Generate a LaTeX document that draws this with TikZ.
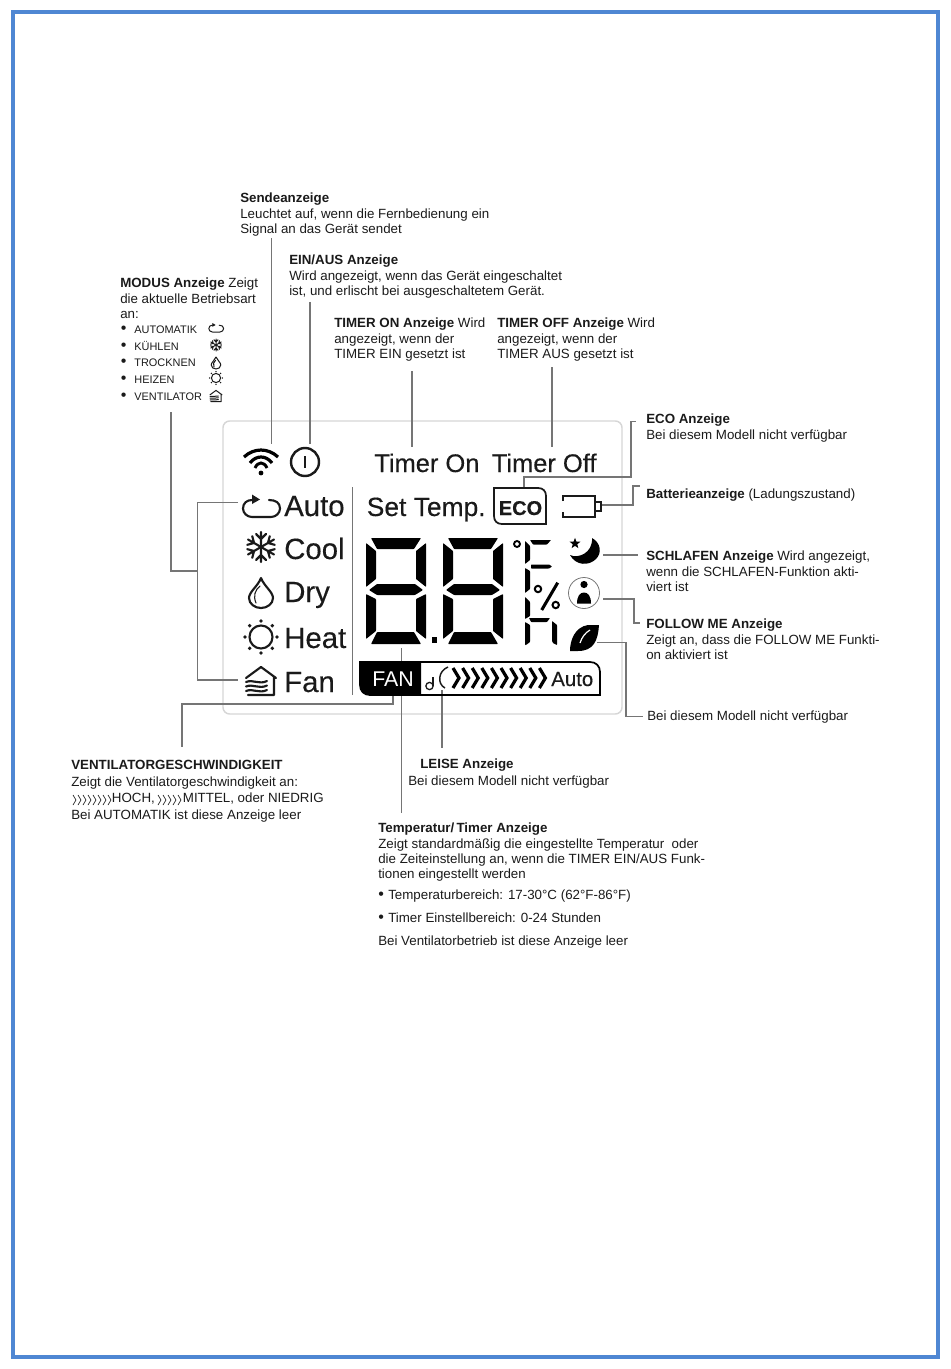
\documentclass[tikz,border=0pt]{standalone}
\usepackage{fontspec}
\setmainfont{Liberation Sans}
\newfontfamily\lcdfont[FakeBold=0.25]{Liberation Sans}
\usetikzlibrary{shapes.geometric}
\definecolor{pageblue}{HTML}{4F87D3}
\definecolor{inkdark}{HTML}{1A1A1A}
\definecolor{leadergray}{HTML}{757575}
\definecolor{panelgray}{HTML}{D6D6D6}
\newcommand{\bigdot}{{\fontsize{12}{10}\selectfont\textbullet}}
\tikzset{
  txt/.style={anchor=north west, inner sep=0pt, align=left, text=inkdark,
    font=\fontsize{10}{11.5}\selectfont},
  smalltxt/.style={anchor=base west, inner sep=0pt, text=inkdark,
    font=\fontsize{8.2}{10}\selectfont},
  lcdtxt/.style={anchor=base west, inner sep=0pt, text=inkdark,
    font=\lcdfont\fontsize{19.1}{19}\selectfont},
  modetxt/.style={anchor=base west, inner sep=0pt, text=inkdark,
    font=\lcdfont\fontsize{22}{22}\selectfont},
  leader/.style={draw=leadergray, line width=.85pt},
  iconline/.style={draw=inkdark, line width=\iconlw, line cap=round, line join=round},
  seg/.style={fill=black, rounded corners=.5pt},
  thinseg/.style={fill=black, rounded corners=.4pt},
  chev/.style={draw=black, line width=2.4pt, line join=miter},
  chevthin/.style={draw=inkdark, line width=.5pt}
}
\def\iconlw{1.6pt}
% 七段数码
\newcommand{\lcddigit}[2]{
  \begin{scope}[shift={(#1,#2)}]
    \fill[seg] (5,0) -- (55,0) -- (48,11) -- (11,11) -- cycle;
    \fill[seg] (0,5) -- (10,13) -- (10,41) -- (0,49) -- cycle;
    \fill[seg] (60,5) -- (50,13) -- (50,41) -- (60,49) -- cycle;
    \fill[seg] (3,52) -- (11,46) -- (49,46) -- (57,52) -- (49,57) -- (11,57) -- cycle;
    \fill[seg] (0,56) -- (10,61) -- (10,93) -- (0,101) -- cycle;
    \fill[seg] (60,56) -- (50,61) -- (50,93) -- (60,101) -- cycle;
    \fill[seg] (5,106) -- (11,94) -- (48,94) -- (55,106) -- cycle;
  \end{scope}
}
% 模式图标
\newcommand{\iconauto}{
  \draw[iconline] (8,-7) .. controls (15,-7) and (19,-4) .. (19,1.5)
    .. controls (19,6) and (15,10) .. (10,10) -- (-9,10)
    .. controls (-14,10) and (-18,6) .. (-18,1.5)
    .. controls (-18,-4) and (-14,-7) .. (-9,-7) -- (-5,-7);
  \fill[inkdark] (-9,-12.5) -- (-1,-7.5) -- (-9,-3) -- cycle;
}
\newcommand{\iconcool}{
  \foreach \a in {30,90,...,330} {
    \begin{scope}[rotate=\a]
      \draw[iconline] (0,0) -- (15,0) (8,0) -- (13,-5) (8,0) -- (13,5);
    \end{scope}
  }
}
\newcommand{\icondry}{
  \draw[iconline] (0,-15) .. controls (-3,-7) and (-12,-1) .. (-12,5)
    .. controls (-12,11) and (-6,15) .. (0,15)
    .. controls (6,15) and (12,11) .. (12,5)
    .. controls (12,-1) and (3,-7) .. (0,-15) -- cycle;
  \draw[iconline, line width=.8pt] (-1,-7) .. controls (-6,-3) and (-8,3) .. (-5,10);
}
\newcommand{\iconheat}{
  \draw[iconline] (0,0) circle[radius=11.5];
  \foreach \a in {0,45,...,315}
    \fill[inkdark] (\a:16) circle[radius=1.9];
}
\newcommand{\iconfan}{
  \draw[iconline] (-15,-3) -- (0,-14) -- (15,-3) (13,-4) -- (13,14) -- (-13,14);
  \foreach \yy in {1,5.5,10}
    \draw[iconline] (-15,\yy) .. controls (-8,\yy-3) and (-2,\yy+3) .. (6,\yy-1);
}
\begin{document}
\begin{tikzpicture}[x=.75pt, y=-.75pt]
  \useasboundingbox (0,0) rectangle (950,1369);
  % 页面边框
  \draw[pageblue, line width=3pt] (12.5,12.5) rectangle (937.5,1357);
  % 面板
  \draw[panelgray, line width=1.1pt, rounded corners=5pt] (223,421) rectangle (622,714);
  \draw[leadergray, line width=.75pt] (352.7,487) -- (352.7,695);
  % 说明文字
  \node[txt] (sendtxt) at (240,193) {\textbf{Sendeanzeige}\\Leuchtet auf, wenn die Fernbedienung ein\\Signal an das Gerät sendet};
  \node[txt] (eintxt) at (289,255) {\textbf{EIN/AUS Anzeige}\\Wird angezeigt, wenn das Gerät eingeschaltet\\ist, und erlischt bei ausgeschaltetem Gerät.};
  \node[txt] (ontxt) at (334,318) {\textbf{TIMER ON Anzeige} Wird\\angezeigt, wenn der\\TIMER EIN gesetzt ist};
  \node[txt] (offtxt) at (497,318) {\textbf{TIMER OFF Anzeige} Wird\\angezeigt, wenn der\\TIMER AUS gesetzt ist};
  \node[txt] (modustxt) at (120,278) {\textbf{MODUS Anzeige} Zeigt\\die aktuelle Betriebsart\\an:};
  \foreach \yy/\nm/\lbl in {333/lauto/AUTOMATIK, 350/lcool/KÜHLEN, 366/ldry/TROCKNEN, 383/lheat/HEIZEN, 400/lfan/VENTILATOR}
    \node[smalltxt] (\nm) at (120.5,\yy) {\makebox[10.2pt][l]{\bigdot}\lbl};
  \node[txt] (ecotxt) at (646,414) {\textbf{ECO Anzeige}\\Bei diesem Modell nicht verfügbar};
  \node[txt] (battxt) at (646,489) {\textbf{Batterieanzeige} (Ladungszustand)};
  \node[txt] (sleeptxt) at (646,551) {\textbf{SCHLAFEN Anzeige} Wird angezeigt,\\wenn die SCHLAFEN-Funktion akti-\\viert ist};
  \node[txt] (followtxt) at (646,619) {\textbf{FOLLOW ME Anzeige}\\Zeigt an, dass die FOLLOW ME Funkti-\\on aktiviert ist};
  \node[txt] (leaftxt) at (647,711) {Bei diesem Modell nicht verfügbar};
  \node[txt, font=\fontsize{10}{12.4}\selectfont] (fantxt) at (71,760) {\textbf{VENTILATORGESCHWINDIGKEIT}\\Zeigt die Ventilatorgeschwindigkeit an:\\\hspace{30.5pt}HOCH,\hspace{21pt}MITTEL, oder NIEDRIG\\Bei AUTOMATIK ist diese Anzeige leer};
  \node[txt] (leisetxt) at (420,759) {\textbf{LEISE Anzeige}};
  \node[txt] (leisesub) at (408,776) {Bei diesem Modell nicht verfügbar};
  \node[txt] (temptxt) at (378,823) {\textbf{Temperatur/\,Timer Anzeige}\\Zeigt standardmäßig die eingestellte Temperatur\ \ oder\\die Zeiteinstellung an, wenn die TIMER EIN/AUS Funk-\\tionen eingestellt werden};
  \node[txt] (tempa) at (378,890) {\makebox[7.5pt][l]{\bigdot}Temperaturbereich: 17-30°C (62°F-86°F)};
  \node[txt] (tempb) at (378,913) {\makebox[7.5pt][l]{\bigdot}Timer Einstellbereich: 0-24 Stunden};
  \node[txt] (tempc) at (378,936) {Bei Ventilatorbetrieb ist diese Anzeige leer};
  % 引线端点
  \foreach \nm/\pos in {wifia/{271.7,238}, wifib/{271.7,444}, pwra/{310,302}, pwrb/{310,444},
      ona/{412,371}, onb/{412,447}, offa/{552,367}, offb/{552,447},
      ecoa/{524,488}, ecob/{631,477}, ecoc/{631,421.7}, ecod/{636,421.7},
      bata/{602,505}, batb/{633,505}, batc/{640,486},
      sleepa/{603,555}, sleepb/{638,555},
      persa/{603,599}, persb/{634,599}, persc/{640,623},
      leafa/{597,642.7}, leafb/{626,642.7}, leafc/{643,716.7},
      modea/{171,412}, modeb/{171,571}, modec/{197.5,571},
      autoa/{238,502.7}, fana/{238,680}, fanc/{197.5,502.7},
      speeda/{393,695}, speedb/{182,704}, speedc/{182,747},
      tempup/{401.7,648}, tempdn/{401.7,813}, quieta/{442,690}, quietb/{442,748}}
    \coordinate (\nm) at (\pos);
  % 引线
  \draw[leader] (wifia) -- (wifib);
  \draw[leader] (pwra) -- (pwrb);
  \draw[leader] (ona) -- (onb);
  \draw[leader] (offa) -- (offb);
  \draw[leader] (ecoa) |- (ecob) -- (ecoc) -- (ecod);
  \draw[leader] (bata) -- (batb) |- (batc);
  \draw[leader] (sleepa) -- (sleepb);
  \draw[leader] (persa) -- (persb) |- (persc);
  \draw[leader] (leafa) -- (leafb) |- (leafc);
  \draw[leader] (modea) -- (modeb) -- (modec);
  \draw[leader] (autoa) -- (fanc) |- (fana);
  \draw[leader] (speeda) |- (speedb) -- (speedc);
  \draw[leader] (tempup) -- (tempdn);
  \draw[leader] (quieta) -- (quietb);
  % 屏幕文字
  \node[lcdtxt] (timeron) at (374,472) {Timer On};
  \node[lcdtxt] (timeroff) at (491.5,472) {Timer Off};
  \node[lcdtxt, font=\lcdfont\fontsize{19.8}{19}\selectfont] (settemp) at (366.5,516) {Set Temp.};
  \foreach \nm/\yy/\lbl in {mauto/516/Auto, mcool/559/Cool, mdry/602/Dry, mheat/648/Heat, mfan/692/Fan}
    \node[modetxt] (\nm) at (284,\yy) {\lbl};
  % 屏幕图标
  \begin{scope}[shift={(261,507)}] \iconauto \end{scope}
  \begin{scope}[shift={(261,547)}] \iconcool \end{scope}
  \begin{scope}[shift={(261,593)}] \icondry \end{scope}
  \begin{scope}[shift={(261,637)}] \iconheat \end{scope}
  \begin{scope}[shift={(261,681)}] \iconfan \end{scope}
  \def\iconlw{.75pt}
  \foreach \yy/\ic in {328/\iconauto, 345/\iconcool, 363/\icondry, 378/\iconheat, 396/\iconfan} {
    \begin{scope}[shift={(216,\yy)}, scale=.4] \ic \end{scope}
  }
  \def\iconlw{1.6pt}
  % 信号与电源
  \begin{scope}[shift={(261,473)}]
    \draw[black, line width=2.4pt] (-17,-16) .. controls (-7,-25.3) and (7,-25.3) .. (17,-16);
    \draw[black, line width=2.4pt] (-11,-10) .. controls (-5,-18) and (5,-18) .. (11,-10);
    \draw[black, line width=2.2pt] (-6,-5) .. controls (-3,-11.7) and (3,-11.7) .. (6,-5);
    \fill[black] (0,0) circle[radius=2.4];
  \end{scope}
  \draw[inkdark, line width=1.8pt] (305,462) circle[radius=14];
  \draw[inkdark, line width=1.6pt] (305,456) -- (305,468);
  % ECO 与电池
  \draw[inkdark, line width=1.3pt] (494,488) -- (538,488) .. controls (543,488) and (546,491) .. (546,496)
    -- (546,524) -- (502,524) .. controls (497,524) and (494,521) .. (494,516) -- cycle;
  \node[anchor=base, inner sep=0pt, font=\lcdfont\fontsize{15}{15}\bfseries\selectfont, text=inkdark] (ecolbl) at (520.5,515) {ECO};
  \draw[inkdark, line width=1.4pt] (563,501) -- (563,496) -- (595,496) -- (595,517) -- (563,517) -- (563,512);
  \draw[inkdark, line width=1.2pt] (595,502) rectangle (601,511);
  % 数码显示
  \lcddigit{366}{538}
  \lcddigit{443}{538}
  \fill[black] (431.5,637) rectangle (437,643);
  % 单位符号
  \draw[black, line width=1.4pt] (517,544) circle[radius=3];
  \fill[thinseg] (530,540) -- (551,540) -- (547,544.5) -- (533,544.5) -- cycle;
  \fill[thinseg] (525,541) -- (530,546) -- (530,560) -- (525,564) -- cycle;
  \fill[thinseg] (531,564.5) -- (549,564.5) -- (552,566.5) -- (549,568.5) -- (531,568.5) -- cycle;
  \fill[thinseg] (525,568) -- (530,571) -- (530,589) -- (525,593) -- cycle;
  \fill[thinseg] (525,597) -- (530,602) -- (530,616) -- (525,619) -- cycle;
  \fill[thinseg] (529,618) -- (550,618) -- (547,622) -- (531,622) -- cycle;
  \fill[thinseg] (525,622) -- (530,625) -- (530,642) -- (526,645) -- (525,645) -- cycle;
  \fill[thinseg] (552,621) -- (557,625) -- (557,645) -- (553,643) -- (552,641) -- cycle;
  \draw[black, line width=1.5pt] (538,589) circle[radius=3.2] (555.7,605) circle[radius=3.2];
  \draw[black, line width=2.3pt] (541.7,610) -- (557.7,582.7);
  % 月亮、人像、叶子
  \fill[black] (592,538) .. controls (601,543) and (602,553) .. (596,559)
    .. controls (589,566) and (576,566) .. (570,555)
    .. controls (578,559) and (593,553) .. (592,538) -- cycle;
  \node[star, star points=5, star point ratio=2.4, fill=black, inner sep=0pt, minimum size=8.5pt] (moonstar) at (575,543.5) {};
  \draw[leadergray, line width=.6pt] (584,593) circle[radius=15.5];
  \fill[black] (584,584.5) circle[radius=3.6];
  \fill[black] (577,603.5) .. controls (577,596) and (580,592.5) .. (584,592.5)
    .. controls (588,592.5) and (591,596) .. (591,603.5) -- cycle;
  \fill[black] (570,651) .. controls (570,640) and (575,627) .. (588,625) -- (599,625)
    .. controls (598,640) and (594,651) .. (578,651) -- cycle;
  \draw[white, line width=.9pt] (580,643) .. controls (582,637) and (585,633) .. (590,630);
  % 风速条
  \draw[black, line width=1.3pt] (360,662) -- (590,662) .. controls (596,662) and (600,666) .. (600,672)
    -- (600,695) -- (370,695) .. controls (364,695) and (360,691) .. (360,685) -- cycle;
  \fill[black] (360,662) -- (421,662) -- (421,695) -- (370,695)
    .. controls (364,695) and (360,691) .. (360,685) -- cycle;
  \node[anchor=base west, inner sep=0pt, text=white, font=\fontsize{16}{16}\selectfont] (fanbar) at (372,686) {FAN};
  \node[anchor=base west, inner sep=0pt, text=inkdark, font=\lcdfont\fontsize{15.3}{15.3}\selectfont] (autobar) at (551,686) {Auto};
  \draw[inkdark, line width=1pt] (429.5,686) circle[radius=3.6];
  \draw[inkdark, line width=1pt] (433,686) -- (433,677);
  \draw[inkdark, line width=1.1pt] (448,667) .. controls (438,671) and (437,684) .. (445,688);
  \foreach \i in {0,...,9}
    \draw[chev] (453+\i*9.6,668) -- (459+\i*9.6,678) -- (453+\i*9.6,688);
  % 小箭头
  \foreach \i in {0,...,7}
    \draw[chevthin] (73+\i*5,795) -- (76+\i*5,800) -- (73+\i*5,805);
  \foreach \i in {0,...,4}
    \draw[chevthin] (158+\i*5,795) -- (161+\i*5,800) -- (158+\i*5,805);
\end{tikzpicture}
\end{document}
